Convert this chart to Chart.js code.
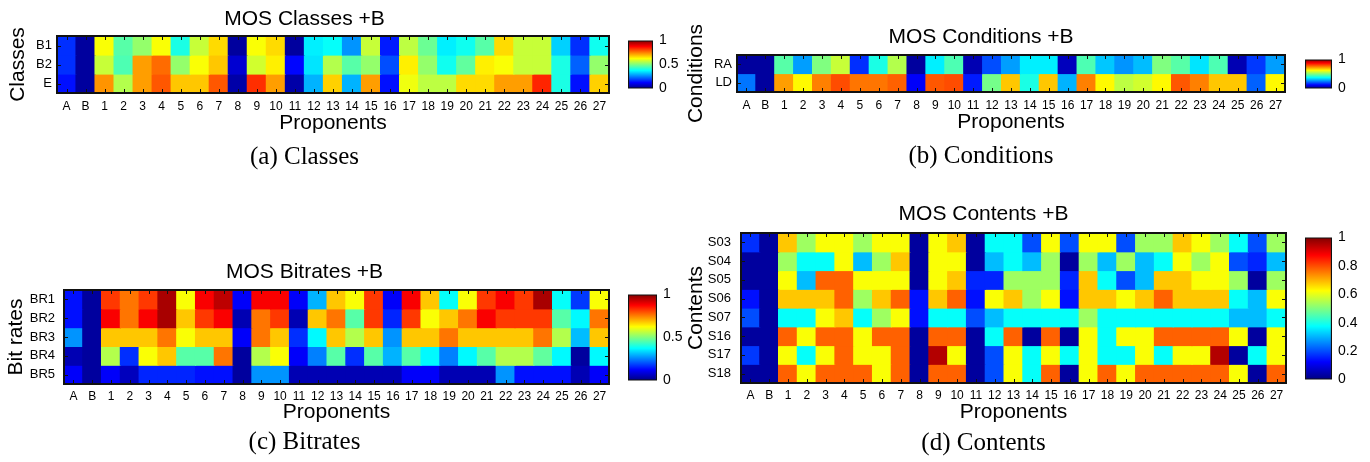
<!DOCTYPE html>
<html>
<head>
<meta charset="utf-8">
<title>MOS heatmaps</title>
<script src="https://cdn.jsdelivr.net/npm/chart.js@4.4.1/dist/chart.umd.min.js"></script>
<style>
body { margin: 0; background: #fff; }
#page { position: relative; width: 1370px; height: 462px; overflow: hidden; background: #fff; }
canvas { position: absolute; }
</style>
</head>
<body>
<div id="page">
    <canvas id="classesChart"></canvas>
    <canvas id="classesBar"></canvas>
    <canvas id="conditionsChart"></canvas>
    <canvas id="conditionsBar"></canvas>
    <canvas id="bitratesChart"></canvas>
    <canvas id="bitratesBar"></canvas>
    <canvas id="contentsChart"></canvas>
    <canvas id="contentsBar"></canvas>
</div>
<script>
//x labels, shared by all four maps
var proponents = ["A", "B", "1", "2", "3", "4", "5", "6", "7", "8", "9", "10", "11", "12", "13",
    "14", "15", "16", "17", "18", "19", "20", "21", "22", "23", "24", "25", "26", "27"];

//colour bar range
var scaleRange = [0, 1];

// ------- (a) classes -------
var classLabels = ["B1", "B2", "E"];
var classB1 = [0.17, 0.03, 0.62, 0.46, 0.52, 0.62, 0.40, 0.57, 0.66, 0.03, 0.62, 0.66, 0.03, 0.36, 0.38,
    0.27, 0.57, 0.15, 0.56, 0.48, 0.36, 0.39, 0.46, 0.66, 0.57, 0.57, 0.33, 0.17, 0.39];
var classB2 = [0.17, 0.03, 0.57, 0.45, 0.72, 0.77, 0.52, 0.62, 0.68, 0.08, 0.58, 0.64, 0.13, 0.35, 0.55,
    0.46, 0.52, 0.20, 0.64, 0.52, 0.39, 0.47, 0.64, 0.62, 0.57, 0.57, 0.40, 0.22, 0.52];
var classE = [0.14, 0.03, 0.73, 0.55, 0.72, 0.79, 0.68, 0.68, 0.79, 0.04, 0.83, 0.72, 0.04, 0.30, 0.67,
    0.30, 0.72, 0.14, 0.61, 0.56, 0.56, 0.66, 0.66, 0.72, 0.72, 0.84, 0.40, 0.14, 0.67];

// ------- (b) conditions -------
var condLabels = ["RA", "LD"];
var condRA = [0.03, 0.03, 0.46, 0.28, 0.50, 0.57, 0.17, 0.40, 0.55, 0.03, 0.36, 0.45, 0.05, 0.20, 0.28,
    0.36, 0.36, 0.06, 0.45, 0.32, 0.27, 0.31, 0.50, 0.46, 0.35, 0.45, 0.05, 0.18, 0.28];
var condLD = [0.24, 0.03, 0.72, 0.63, 0.75, 0.80, 0.76, 0.76, 0.78, 0.12, 0.79, 0.80, 0.15, 0.49, 0.68,
    0.40, 0.68, 0.30, 0.75, 0.63, 0.56, 0.58, 0.63, 0.79, 0.75, 0.68, 0.68, 0.22, 0.63];

// ------- (c) bitrates -------
var rateLabels = ["BR1", "BR2", "BR3", "BR4", "BR5"];
var rateBR1 = [0.14, 0.03, 0.82, 0.76, 0.82, 0.96, 0.62, 0.88, 0.94, 0.12, 0.88, 0.88, 0.12, 0.30, 0.68,
    0.62, 0.82, 0.12, 0.88, 0.68, 0.38, 0.62, 0.82, 0.88, 0.82, 0.96, 0.38, 0.18, 0.62];
var rateBR2 = [0.14, 0.03, 0.88, 0.76, 0.88, 0.96, 0.68, 0.82, 0.88, 0.05, 0.76, 0.82, 0.05, 0.68, 0.76,
    0.46, 0.82, 0.16, 0.82, 0.62, 0.68, 0.76, 0.88, 0.82, 0.82, 0.82, 0.46, 0.37, 0.76];
var rateBR3 = [0.27, 0.03, 0.68, 0.68, 0.68, 0.76, 0.62, 0.68, 0.68, 0.12, 0.76, 0.68, 0.17, 0.37, 0.68,
    0.55, 0.68, 0.27, 0.68, 0.68, 0.76, 0.68, 0.68, 0.68, 0.68, 0.76, 0.55, 0.31, 0.68];
var rateBR4 = [0.05, 0.03, 0.55, 0.17, 0.62, 0.68, 0.46, 0.46, 0.76, 0.03, 0.55, 0.62, 0.12, 0.25, 0.46,
    0.17, 0.46, 0.30, 0.46, 0.37, 0.25, 0.37, 0.46, 0.55, 0.55, 0.47, 0.37, 0.03, 0.37];
var rateBR5 = [0.12, 0.03, 0.12, 0.06, 0.16, 0.16, 0.16, 0.14, 0.14, 0.03, 0.27, 0.27, 0.05, 0.05, 0.05,
    0.05, 0.05, 0.05, 0.12, 0.12, 0.05, 0.05, 0.05, 0.27, 0.14, 0.14, 0.14, 0.05, 0.12];

// ------- (d) contents -------
var contLabels = ["S03", "S04", "S05", "S06", "S07", "S16", "S17", "S18"];
var contS03 = [0.17, 0.03, 0.68, 0.53, 0.62, 0.62, 0.53, 0.62, 0.62, 0.03, 0.62, 0.68, 0.03, 0.38, 0.38,
    0.20, 0.62, 0.20, 0.62, 0.62, 0.20, 0.53, 0.53, 0.68, 0.62, 0.53, 0.38, 0.20, 0.53];
var contS04 = [0.03, 0.03, 0.53, 0.38, 0.38, 0.62, 0.31, 0.53, 0.68, 0.03, 0.62, 0.62, 0.03, 0.31, 0.38,
    0.31, 0.53, 0.03, 0.53, 0.31, 0.53, 0.31, 0.38, 0.62, 0.53, 0.62, 0.20, 0.16, 0.31];
var contS05 = [0.03, 0.03, 0.62, 0.31, 0.78, 0.78, 0.62, 0.62, 0.62, 0.03, 0.62, 0.68, 0.16, 0.16, 0.53,
    0.53, 0.53, 0.16, 0.68, 0.38, 0.20, 0.31, 0.68, 0.68, 0.62, 0.62, 0.53, 0.03, 0.53];
var contS06 = [0.14, 0.03, 0.68, 0.68, 0.68, 0.78, 0.53, 0.68, 0.78, 0.14, 0.68, 0.78, 0.14, 0.62, 0.68,
    0.53, 0.62, 0.14, 0.68, 0.68, 0.62, 0.68, 0.78, 0.68, 0.68, 0.68, 0.38, 0.31, 0.62];
var contS07 = [0.20, 0.03, 0.38, 0.38, 0.62, 0.68, 0.38, 0.53, 0.62, 0.14, 0.38, 0.38, 0.20, 0.31, 0.38,
    0.38, 0.38, 0.38, 0.53, 0.38, 0.38, 0.38, 0.38, 0.38, 0.38, 0.38, 0.31, 0.31, 0.38];
var contS16 = [0.03, 0.03, 0.78, 0.62, 0.78, 0.78, 0.62, 0.78, 0.78, 0.03, 0.78, 0.78, 0.03, 0.38, 0.78,
    0.03, 0.78, 0.03, 0.62, 0.38, 0.62, 0.62, 0.78, 0.78, 0.78, 0.78, 0.62, 0.03, 0.62];
var contS17 = [0.18, 0.03, 0.62, 0.38, 0.62, 0.78, 0.62, 0.62, 0.78, 0.03, 0.95, 0.62, 0.03, 0.20, 0.62,
    0.38, 0.62, 0.38, 0.62, 0.38, 0.38, 0.62, 0.38, 0.62, 0.62, 0.95, 0.03, 0.38, 0.62];
var contS18 = [0.03, 0.03, 0.78, 0.62, 0.78, 0.78, 0.78, 0.62, 0.78, 0.03, 0.78, 0.78, 0.03, 0.20, 0.62,
    0.38, 0.78, 0.03, 0.62, 0.78, 0.62, 0.78, 0.78, 0.78, 0.78, 0.78, 0.62, 0.03, 0.78];

//where each map sits on the page (plot box, title / caption lines)
var layoutA = {x: 57, y: 36, w: 552, h: 57, side: 57, titleY: 19, xTitleY: 124, capY: 157, yTitleX: 18, tickPad: 6, rowPad: 5};
var layoutB = {x: 737, y: 55, w: 548, h: 37, side: 60, titleY: 37, xTitleY: 123, capY: 156, yTitleX: 696, tickPad: 6, rowPad: 5};
var layoutC = {x: 64, y: 290, w: 545, h: 94, side: 64, titleY: 272, xTitleY: 413, capY: 442, yTitleX: 16, tickPad: 5, rowPad: 9};
var layoutD = {x: 741, y: 233, w: 545, h: 150, side: 60, titleY: 214, xTitleY: 413, capY: 443, yTitleX: 696, tickPad: 5, rowPad: 10};

var barA = {x: 628, y: 36, w: 25, h: 57};
var barB = {x: 1305, y: 55, w: 27, h: 38};
var barC = {x: 628, y: 290, w: 29, h: 95};
var barD = {x: 1305, y: 233, w: 27, h: 151};

Chart.defaults.font.family = "'Liberation Sans', Arial, Helvetica, sans-serif";
Chart.defaults.color = "#000";

//matlab jet colour map
var jetStops = [
    [0, "rgb(0,0,128)"],
    [0.125, "rgb(0,0,255)"],
    [0.375, "rgb(0,255,255)"],
    [0.625, "rgb(255,255,0)"],
    [0.875, "rgb(255,0,0)"],
    [1, "rgb(128,0,0)"]
];

function jet(v) {
    var clamp = function(c) { return Math.round(255 * Math.max(0, Math.min(1, c))); };
    var r = clamp(1.5 - Math.abs(4 * v - 3));
    var g = clamp(1.5 - Math.abs(4 * v - 2));
    var b = clamp(1.5 - Math.abs(4 * v - 1));
    return "rgb(" + r + "," + g + "," + b + ")";
}

//black frame and small inward ticks like the matlab axes
var frameTicks = {
    id: "frameTicks",
    afterDatasetsDraw: function(chart) {
        var ctx = chart.ctx;
        var a = chart.chartArea;
        var xs = chart.scales.x;
        var ys = chart.scales.yRows;
        ctx.save();
        ctx.strokeStyle = "#111";
        ctx.lineWidth = 1;
        ctx.beginPath();
        xs.ticks.forEach(function(t, i) {
            var px = Math.round(xs.getPixelForTick(i)) + 0.5;
            ctx.moveTo(px, a.bottom);
            ctx.lineTo(px, a.bottom - 4);
            ctx.moveTo(px, a.top);
            ctx.lineTo(px, a.top + 4);
        });
        ys.ticks.forEach(function(t, i) {
            var py = Math.round(ys.getPixelForTick(i)) + 0.5;
            ctx.moveTo(a.left, py);
            ctx.lineTo(a.left + 4, py);
            ctx.moveTo(a.right, py);
            ctx.lineTo(a.right - 4, py);
        });
        ctx.stroke();
        ctx.lineWidth = 2;
        ctx.strokeRect(a.left, a.top, a.right - a.left, a.bottom - a.top);
        ctx.restore();
    }
};

function heatmap(id, box, rowLabels, rows, title, yTitle, caption) {
    var canvas = document.getElementById(id);
    var top = box.titleY - 12;
    var axisBottom = box.xTitleY + 10;
    canvas.width = box.w + 2 * box.side;
    canvas.height = box.capY + 16 - top;
    canvas.style.left = (box.x - box.side) + "px";
    canvas.style.top = top + "px";

    new Chart(canvas, {
        type: "bar",
        data: {
            labels: proponents,
            datasets: rows.map(function(vals, i) {
                return {
                    label: rowLabels[i],
                    //every cell is one unit high, the colour carries the value
                    data: vals.map(function() { return 1; }),
                    backgroundColor: vals.map(jet),
                    borderWidth: 0,
                    barPercentage: 1,
                    categoryPercentage: 1,
                    inflateAmount: 0.6
                };
            })
        },
        options: {
            responsive: false,
            animation: false,
            layout: { padding: { left: 0, right: box.side, top: 0, bottom: 0 } },
            plugins: {
                legend: { display: false },
                tooltip: { enabled: false },
                title: {
                    display: true,
                    text: title,
                    color: "#000",
                    font: { size: 21, weight: "normal", lineHeight: 1 },
                    padding: { top: 1.5, bottom: box.y - (box.titleY + 10.5) }
                },
                subtitle: {
                    display: true,
                    position: "bottom",
                    text: caption,
                    color: "#000",
                    font: { family: "'Liberation Serif', 'Times New Roman', serif", size: 25, weight: "normal", lineHeight: 1 },
                    padding: { top: box.capY - axisBottom - 12.5, bottom: 3.5 }
                }
            },
            scales: {
                x: {
                    stacked: true,
                    grid: { display: false, drawTicks: false },
                    border: { display: false },
                    ticks: { autoSkip: false, maxRotation: 0, padding: box.tickPad, font: { size: 12 } },
                    title: { display: true, text: "Proponents", font: { size: 21, lineHeight: 1 }, padding: 0 },
                    afterFit: function(s) { s.height = axisBottom - (box.y + box.h); }
                },
                y: {
                    stacked: true,
                    display: false,
                    min: 0,
                    max: rows.length,
                    reverse: true
                },
                yRows: {
                    axis: "y",
                    type: "category",
                    labels: rowLabels,
                    position: "left",
                    offset: true,
                    grid: { display: false, drawTicks: false },
                    border: { display: false },
                    ticks: { autoSkip: false, padding: box.rowPad, font: { size: 13 } },
                    title: {
                        display: true,
                        text: yTitle,
                        font: { size: 21, lineHeight: 1 },
                        padding: { top: box.yTitleX - (box.x - box.side) - 10.5, bottom: 0 }
                    },
                    afterFit: function(s) { s.width = box.side; }
                }
            }
        },
        plugins: [frameTicks]
    });
}

function colorbar(id, box, step) {
    var canvas = document.getElementById(id);
    canvas.width = box.w + 40;
    canvas.height = box.h + 20;
    canvas.style.left = box.x + "px";
    canvas.style.top = (box.y - 10) + "px";

    new Chart(canvas, {
        type: "bar",
        data: {
            labels: [""],
            datasets: [{
                data: [scaleRange[1]],
                backgroundColor: function(c) {
                    var area = c.chart.chartArea;
                    if (!area) return "#888";
                    var g = c.chart.ctx.createLinearGradient(0, area.bottom, 0, area.top);
                    jetStops.forEach(function(s) { g.addColorStop(s[0], s[1]); });
                    return g;
                },
                borderColor: "#111",
                borderWidth: 1.5,
                borderSkipped: false,
                barPercentage: 1,
                categoryPercentage: 1
            }]
        },
        options: {
            responsive: false,
            animation: false,
            layout: { padding: { left: 0, right: 0, top: 10, bottom: 10 } },
            plugins: { legend: { display: false }, tooltip: { enabled: false } },
            scales: {
                x: { display: false },
                y: {
                    position: "right",
                    min: scaleRange[0],
                    max: scaleRange[1],
                    grid: { display: false, drawTicks: false },
                    border: { display: false },
                    ticks: {
                        stepSize: step,
                        padding: 6,
                        font: { size: 14 },
                        //matlab style: 0, 0.5, 1
                        callback: function(v) { return String(Math.round(v * 10) / 10); }
                    },
                    afterFit: function(s) { s.width = 40; }
                }
            }
        }
    });
}

heatmap("classesChart", layoutA, classLabels, [classB1, classB2, classE], "MOS Classes +B", "Classes", "(a) Classes");
heatmap("conditionsChart", layoutB, condLabels, [condRA, condLD], "MOS Conditions +B", "Conditions", "(b) Conditions");
heatmap("bitratesChart", layoutC, rateLabels, [rateBR1, rateBR2, rateBR3, rateBR4, rateBR5], "MOS Bitrates +B", "Bit rates", "(c) Bitrates");
heatmap("contentsChart", layoutD, contLabels, [contS03, contS04, contS05, contS06, contS07, contS16, contS17, contS18], "MOS Contents +B", "Contents", "(d) Contents");

colorbar("classesBar", barA, 0.5);
colorbar("conditionsBar", barB, 0.5);
colorbar("bitratesBar", barC, 0.5);
colorbar("contentsBar", barD, 0.2);
</script>
</body>
</html>
